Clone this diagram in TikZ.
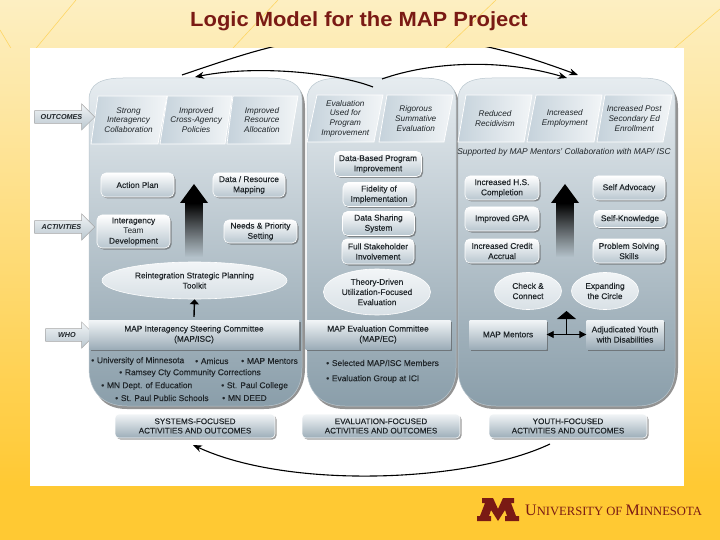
\documentclass[tikz,border=0pt]{standalone}
\usepackage{fontspec}
\setmainfont{Liberation Sans}
\newfontfamily\semi{Liberation Sans}[FakeBold=0.2]
\usetikzlibrary{shapes.geometric,shapes.arrows,arrows.meta,shadows,fadings}
\definecolor{mroon}{HTML}{7A1A14}
\definecolor{gld}{HTML}{FFC933}
\definecolor{cream}{HTML}{FDEFC2}
\definecolor{txt}{HTML}{20262A}
\definecolor{pa}{HTML}{E6ECF0}
\definecolor{pb}{HTML}{B9C6CE}
\definecolor{pc}{HTML}{8A9EAA}
\definecolor{boxb}{HTML}{B8C6CF}
\definecolor{capb}{HTML}{9CADB8}
\definecolor{parl}{HTML}{C5D2DB}
\definecolor{parr}{HTML}{F2F5F7}
\tikzfading[name=shaftfade,top color=transparent!0,bottom color=transparent!100]
\tikzset{
  x=1pt,y=-1pt,
  parbox/.style={draw=white,line width=.7pt,left color=parl,right color=parr,align=center},
  softshadow/.style={drop shadow={shadow xshift=1.5pt,shadow yshift=-1.5pt,opacity=.55,fill=black!70}},
  rbox/.style={rounded corners=5pt,draw=white,line width=.6pt,top color=white,bottom color=boxb,softshadow,align=center,inner sep=0pt,font=\semi\fontsize{8.3}{10.2}\selectfont\color{txt}},
  sqbox/.style={draw=none,top color=parr,bottom color=capb,softshadow,align=center,inner sep=0pt,font=\semi\fontsize{8.3}{10.2}\selectfont\color{txt}},
  capbox/.style={rbox,rounded corners=4pt,top color=parr,bottom color=capb,font=\semi\fontsize{8.1}{9.4}\selectfont\color{txt}},
  oval/.style={ellipse,draw=white,line width=.6pt,top color=parr,bottom color=pa!70!pb,align=center,inner sep=0pt,font=\semi\fontsize{8.3}{10.2}\selectfont\color{txt}},
  plabel/.style={font=\fontsize{8.2}{9.6}\selectfont\itshape\color{txt},align=center,inner sep=0pt},
  sidearrow/.style={single arrow,single arrow head extend=4pt,single arrow tip angle=90,minimum width=26pt,draw=gray!70,line width=.5pt,top color=parr,bottom color=pb,anchor=tip,inner sep=1pt,font=\fontsize{7.2}{8}\selectfont\itshape\bfseries\color{txt},align=center},
  bullettxt/.style={font=\semi\fontsize{8.4}{9}\selectfont\color{txt},inner sep=0pt,anchor=west},
  curve/.style={line width=1.1pt,black},
  curvehead/.style={curve,-{Stealth[length=9pt,width=7pt]}},
  deco/.style={line width=.6pt,gld!65!cream},
}
\newcommand{\bigarrow}[3]{%
  \fill[black] (#1-14,#2+19) -- (#1,#2) -- (#1+14,#2+19) -- cycle;
  \fill[black,path fading=shaftfade] (#1-9,#2+19) rectangle (#1+9,#3);
}
\newcommand{\panelshape}[4]{%
  \fill[black!60,opacity=.7] (#1+3,#3+22) .. controls (#1+3,#3+6) and (#1+12,#3+3) .. (#1+34,#3+3) -- (#2-26,#3+3) .. controls (#2-8,#3+3) and (#2+3,#3+10) .. (#2+3,#3+30) -- (#2+3,#4-38) .. controls (#2+3,#4-14) and (#2-12,#4+3) .. (#2-38,#4+3) -- (#1+38,#4+3) .. controls (#1+12,#4+3) and (#1+3,#4-14) .. (#1+3,#4-38) -- cycle;
  \draw[pb,line width=.5pt,top color=pa,middle color=pb!70!pa,bottom color=pc] (#1,#3+22) .. controls (#1,#3+6) and (#1+12,#3) .. (#1+34,#3) -- (#2-34,#3) .. controls (#2-12,#3) and (#2,#3+6) .. (#2,#3+22) -- (#2,#4-38) .. controls (#2,#4-14) and (#2-14,#4) .. (#2-38,#4) -- (#1+38,#4) .. controls (#1+14,#4) and (#1,#4-14) .. (#1,#4-38) -- cycle;
}
\newcommand{\outcomebox}[7]{%
  \path[parbox] (#1,#5) -- (#2,#5) -- (#3,#6) -- (#4,#6) -- cycle;
  \node[plabel] at ({(#1+#2+#3+#4)/4},{(#5+#6)/2}) {#7};
}
\begin{document}
\begin{tikzpicture}
\useasboundingbox (0,0) rectangle (720,540);
% background
\fill[gld] (0,0) rectangle (720,540);
\shade[top color=cream,bottom color=gld] (0,0) rectangle (720,486);
\fill[white] (30,48) rectangle (684,486);
\begin{scope}
\clip (0,0) rectangle (720,48);
\draw[deco] (76,0) -- (23,64);
\draw[deco] (0,30) -- (18,60);
\draw[deco] (278,0) -- (218,64);
\draw[deco] (496,0) -- (429,64);
\draw[deco] (720,9) -- (656,64);
\end{scope}
\node[inner sep=0pt,text=mroon,font=\fontsize{20.5}{22}\selectfont\bfseries,xscale=1.07] (title) at (359,21) {Logic Model for the MAP Project};

% panels
\panelshape{89}{302}{78}{406}
\panelshape{307}{456}{78}{406}
\panelshape{458}{675}{78}{406}

% curved arrows (clipped by the top of the white area)
\begin{scope}
\clip (30,48) rectangle (684,486);
\coordinate (a1s) at (182,75);
\coordinate (a1e) at (578,75);
\draw[curvehead] (a1s) .. controls (270,45) and (300,36) .. (380,36) .. controls (460,36) and (510,50) .. (a1e);
\coordinate (a2s) at (373,87);
\coordinate (a2e) at (195,77);
\draw[curvehead] (a2s) .. controls (340,74) and (260,64) .. (a2e);
\coordinate (a3s) at (382,79);
\coordinate (a3e) at (567,78);
\draw[curvehead] (a3s) .. controls (430,62) and (500,58) .. (a3e);
\coordinate (a4s) at (550,444);
\coordinate (a4e) at (193,445);
\draw[curvehead] (a4s) .. controls (470,482) and (290,490) .. (a4e);
\end{scope}

% outcome parallelograms
\outcomebox{98}{167}{158}{91}{96}{144}{Strong\\Interagency\\Collaboration}
\outcomebox{167.5}{232}{225}{160}{96}{144}{Improved\\Cross-Agency\\Policies}
\outcomebox{233}{298}{290}{227}{96}{144}{Improved\\Resource\\Allocation}
\outcomebox{317}{383}{374}{307}{95}{142}{Evaluation\\Used for\\Program\\Improvement}
\outcomebox{387}{453}{444}{379}{95}{142}{Rigorous\\Summative\\Evaluation}
\outcomebox{466}{532}{524}{458}{95}{142}{Reduced\\Recidivism}
\outcomebox{536}{602}{594}{527}{95}{142}{Increased\\Employment}
\outcomebox{605}{672}{663}{597}{95}{142}{Increased Post\\Secondary Ed\\Enrollment}

% side arrows
\node[sidearrow,minimum height=60pt] (outc) at (95,117) {OUTCOMES};
\node[sidearrow,minimum height=60pt] (actv) at (95,227) {ACTIVITIES};
\node[sidearrow,minimum height=49pt] (whoa) at (95,335) {WHO};

% left panel
\node[rbox,minimum width=73pt,minimum height=24pt] (ap) at (137.5,185) {Action Plan};
\node[rbox,minimum width=72pt,minimum height=24pt] (drm) at (249,185) {Data / Resource\\Mapping};
\node[rbox,minimum width=73pt,minimum height=33pt] (itd) at (133.5,231.5) {Interagency\\{\normalfont\fontsize{8.3}{10.2}\selectfont Team}\\Development};
\node[rbox,minimum width=73pt,minimum height=23pt] (nps) at (260.5,231.5) {Needs \& Priority\\Setting};
\bigarrow{194}{184}{257}
\node[oval,minimum width=185pt,minimum height=37pt] (rsp) at (194.5,280.5) {Reintegration Strategic Planning\\Toolkit};
\node[sqbox,minimum width=210pt,minimum height=29pt] (isc) at (194,334.5) {MAP Interagency Steering Committee\\(MAP/ISC)};
\draw[black,line width=1.4pt,-{Triangle[length=5pt,width=9pt]}] (isc.north) ++(0,-3) -- (rsp.south);

\node[bullettxt] at (91,361) {•\,\,University of Minnesota};
\node[bullettxt] at (195,361) {•\,\,Amicus};
\node[bullettxt] at (241,361) {•\,\,MAP Mentors};
\node[bullettxt] at (119,373) {•\,\,Ramsey Cty Community Corrections};
\node[bullettxt] at (101,386) {•\,\,MN Dept. of Education};
\node[bullettxt] at (221,386) {•\,\,St. Paul College};
\node[bullettxt] at (115,398) {•\,\,St. Paul Public Schools};
\node[bullettxt] at (222,398) {•\,\,MN DEED};

% centre panel
\node[rbox,minimum width=87pt,minimum height=25pt] (dbp) at (378,164) {Data-Based Program\\Improvement};
\node[rbox,minimum width=72pt,minimum height=24pt] (foi) at (379,194.5) {Fidelity of\\Implementation};
\node[rbox,minimum width=72pt,minimum height=24pt] (dss) at (378.5,223.5) {Data Sharing\\System};
\node[rbox,minimum width=72pt,minimum height=25pt] (fsi) at (378,251.5) {Full Stakeholder\\Involvement};
\node[oval,minimum width=107pt,minimum height=46pt] (tdu) at (377,292) {Theory-Driven\\Utilization-Focused\\Evaluation};
\node[sqbox,minimum width=145pt,minimum height=29pt] (mec) at (378,334.5) {MAP Evaluation Committee\\(MAP/EC)};
\node[bullettxt] at (326,363) {•\,\,Selected MAP/ISC Members};
\node[bullettxt] at (326,379) {•\,\,Evaluation Group at ICI};

% right panel
\node[inner sep=0pt,font=\fontsize{8.4}{9}\selectfont\itshape\color{txt}] (sup) at (564,152) {Supported by MAP Mentors' Collaboration with MAP/ ISC};
\node[rbox,minimum width=74pt,minimum height=24pt] (hs) at (502,188) {Increased H.S.\\Completion};
\node[rbox,minimum width=74pt,minimum height=24pt] (gpa) at (502,219) {Improved GPA};
\node[rbox,minimum width=74pt,minimum height=24pt] (cred) at (502,251) {Increased Credit\\Accrual};
\node[rbox,minimum width=72pt,minimum height=24pt] (adv) at (629,188) {Self Advocacy};
\node[rbox,minimum width=72pt,minimum height=17pt] (skn) at (630,219) {Self-Knowledge};
\node[rbox,minimum width=72pt,minimum height=24pt] (psk) at (629,251) {Problem Solving\\Skills};
\bigarrow{565}{184}{257}
\node[oval,minimum width=67pt,minimum height=37pt] (cc) at (528,291) {Check \&\\Connect};
\node[oval,minimum width=67pt,minimum height=37pt] (ec) at (605,291) {Expanding\\the Circle};
\node[sqbox,minimum width=77pt,minimum height=29pt] (mm) at (508,334.5) {MAP Mentors};
\node[sqbox,minimum width=77pt,minimum height=29pt] (ay) at (625,334.5) {Adjudicated Youth\\with Disabilities};
\draw[black,line width=.9pt,{Triangle[length=7pt,width=7pt]}-{Triangle[length=7pt,width=7pt]}] (mm.east) -- (ay.west);
\coordinate (midlow) at (566.5,334.5);
\coordinate (midtop) at (566.5,311);
\draw[black,line width=.9pt,-{Triangle[length=8pt,width=19pt]}] (midlow) -- (midtop);

% captions
\node[capbox,minimum width=160pt,minimum height=24pt] (sf) at (195,426) {SYSTEMS-FOCUSED\\ACTIVITIES AND OUTCOMES};
\node[capbox,minimum width=158pt,minimum height=24pt] (ef) at (381,426) {EVALUATION-FOCUSED\\ACTIVITIES AND OUTCOMES};
\node[capbox,minimum width=158pt,minimum height=24pt] (yf) at (568,426) {YOUTH-FOCUSED\\ACTIVITIES AND OUTCOMES};

% logo
\fill[mroon] (477,521) -- (477,516) -- (480,516) -- (485,503) -- (482,503) -- (482,498) -- (493,498) -- (498,509) -- (503,498) -- (514,498) -- (514,503) -- (511,503) -- (516,516) -- (519,516) -- (519,521) -- (505,521) -- (505,516) -- (507,516) -- (505,510) -- (498,521) -- (491,510) -- (489,516) -- (491,516) -- (491,521) -- cycle;
\node[inner sep=0pt,anchor=west,text=mroon] (umn) at (525,510) {\fontspec{Liberation Serif}\fontsize{16}{16}\selectfont U\fontsize{12.6}{16}\selectfont NIVERSITY OF \fontsize{16}{16}\selectfont M\fontsize{12.6}{16}\selectfont INNESOTA};
\end{tikzpicture}
\end{document}
